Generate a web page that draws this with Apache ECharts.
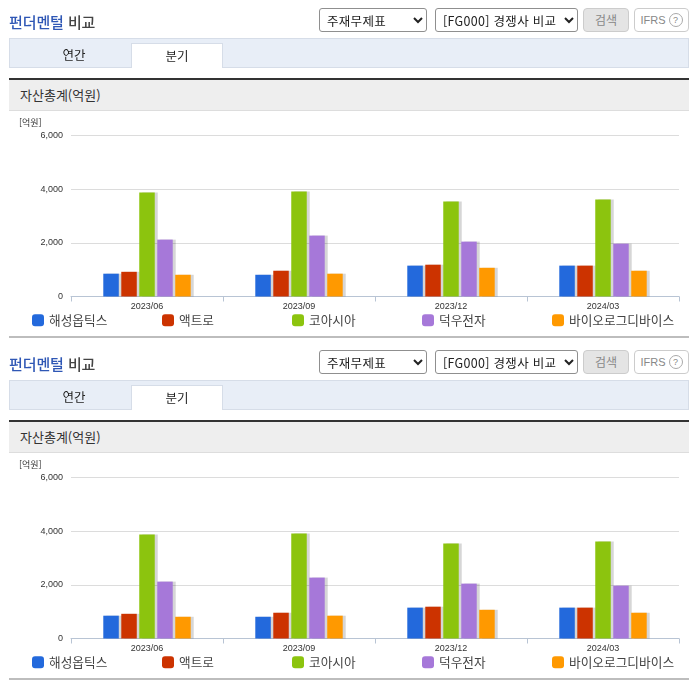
<!DOCTYPE html>
<html lang="ko">
<head>
<meta charset="utf-8">
<title>펀더멘털 비교</title>
<style>
html,body{margin:0;padding:0;background:#fff;width:696px;height:684px;overflow:hidden;font-family:"Noto Sans CJK KR","Noto Sans",sans-serif;}
#chart{position:absolute;left:0;top:0;width:696px;height:684px;}
.panel{position:absolute;left:0;width:696px;height:342px;}
.abs{position:absolute;box-sizing:border-box;}
.title{left:9px;top:12px;font-size:15px;line-height:20px;font-weight:500;color:#444;letter-spacing:-.1px;}
.title b{color:#2f57b5;font-weight:500;}
select{position:absolute;box-sizing:border-box;top:8px;height:24px;background:#fff;border:1px solid #8f8f8f;border-radius:3px;font:12.5px "Noto Sans CJK KR",sans-serif;letter-spacing:.3px;color:#222;padding:0 0 0 3px;margin:0;}
.btn{top:8px;height:24px;border-radius:4px;font-size:12px;line-height:22px;text-align:center;}
.ifrs{font:11px "Liberation Sans",sans-serif;color:#888;display:flex;align-items:center;justify-content:center;}
.ifrs i{display:block;box-sizing:border-box;width:14px;height:14px;border:1px solid #aaa;border-radius:50%;font-style:normal;font-size:9px;line-height:12px;margin-left:3px;}
.tabs{left:9px;top:38px;width:680px;height:30px;background:#e8eef7;border:1px solid #d6dde8;}
.tab{top:43px;height:25px;font-size:12.5px;line-height:24px;text-align:center;color:#222;}
.band{left:9px;top:78px;width:680px;height:33px;background:#eee;border-top:2px solid #333;border-bottom:1px solid #ddd;font-size:13px;font-weight:400;line-height:30px;color:#333;padding-left:11px;}
.rule{left:9px;top:336px;width:680px;height:2px;background:#bdbdbd;}
.unit{left:19px;top:117px;font-size:9px;line-height:12px;color:#333;}
</style>
</head>
<body>
<div id="chart"></div>
<div id="chrome"></div>
<script src="https://cdn.jsdelivr.net/npm/echarts@6/dist/echarts.min.js"></script>
<script>
const categories = ['2023/06', '2023/09', '2023/12', '2024/03'];
const companies = ['해성옵틱스', '액트로', '코아시아', '덕우전자', '바이오로그디바이스'];
const haesung = [850, 810, 1150, 1150];
const actro = [920, 960, 1185, 1150];
const coasia = [3880, 3915, 3540, 3615];
const dukwoo = [2120, 2270, 2045, 1970];
const biolog = [810, 850, 1070, 960];
const seriesValues = [haesung, actro, coasia, dukwoo, biolog];
const colors = ['#2369dc', '#cc3300', '#8cc40e', '#a678d9', '#ff9900'];
const yTicks = { min: 0, max: 6000, interval: 2000 };
const panelOffsets = [0, 342];

const chrome = document.getElementById('chrome');
panelOffsets.forEach(function (off) {
  const p = document.createElement('div');
  p.className = 'panel';
  p.style.top = off + 'px';
  p.innerHTML =
    '<div class="abs title"><b>펀더멘털</b> 비교</div>' +
    '<select style="left:319px;width:108px"><option>주재무제표</option></select>' +
    '<select style="left:435px;width:143px"><option>[FG000] 경쟁사 비교</option></select>' +
    '<div class="abs btn" style="left:583px;width:46px;background:#e4e4e4;border:1px solid #ccc;color:#888">검색</div>' +
    '<div class="abs btn ifrs" style="left:634px;width:55px;background:#fff;border:1px solid #ccc">IFRS<i>?</i></div>' +
    '<div class="abs tabs"></div>' +
    '<div class="abs tab" style="left:18px;width:112px">연간</div>' +
    '<div class="abs tab" style="left:131px;width:92px;background:#fff;border:1px solid #d6dde8;border-bottom:none">분기</div>' +
    '<div class="abs band">자산총계(억원)</div>' +
    '<div class="abs unit">[억원]</div>' +
    '<div class="abs rule"></div>';
  chrome.appendChild(p);
});

const chart = echarts.init(document.getElementById('chart'), null, { renderer: 'canvas' });
const grids = [], xAxes = [], yAxes = [], series = [], legends = [];
const labelColor = '#333';
panelOffsets.forEach(function (off, i) {
  grids.push({ left: 71, width: 608, top: 135.5 + off, height: 161 });
  xAxes.push({
    type: 'category', gridIndex: i, data: categories,
    axisLine: { lineStyle: { color: '#b8c4d4', width: 1 } },
    axisTick: { show: true, length: 5, inside: false, lineStyle: { color: '#b8c4d4' } },
    axisLabel: { fontSize: 9, color: labelColor, margin: 6, fontFamily: 'Liberation Sans' }
  });
  yAxes.push({
    type: 'value', gridIndex: i, min: yTicks.min, max: yTicks.max, interval: yTicks.interval,
    axisLine: { show: false }, axisTick: { show: false },
    splitLine: { lineStyle: { color: '#dcdcdc', width: 1 } },
    axisLabel: { fontSize: 9, color: labelColor, margin: 8, fontFamily: 'Liberation Sans',
      formatter: function (v) { return v.toLocaleString('en-US'); } }
  });
  companies.forEach(function (name, k) {
    series.push({
      type: 'bar', name: name, xAxisIndex: i, yAxisIndex: i, data: seriesValues[k],
      barWidth: 15.5, barGap: '16%',
      itemStyle: { color: colors[k], shadowColor: 'rgba(0,0,0,0.16)', shadowBlur: 0, shadowOffsetX: 3, shadowOffsetY: 0 },
      emphasis: { disabled: true }, animation: false
    });
    legends.push({
      data: [name], left: 32 + k * 130, top: 314 + off, padding: 0,
      itemWidth: 12, itemHeight: 12, itemGap: 5, icon: 'roundRect',
      textStyle: { fontSize: 12.7, color: '#444', fontFamily: 'Noto Sans CJK KR' },
      selectedMode: false
    });
  });
});
chart.setOption({
  animation: false, color: colors, textStyle: { fontFamily: 'Noto Sans CJK KR' },
  grid: grids, xAxis: xAxes, yAxis: yAxes, series: series, legend: legends
});
</script>
</body>
</html>
